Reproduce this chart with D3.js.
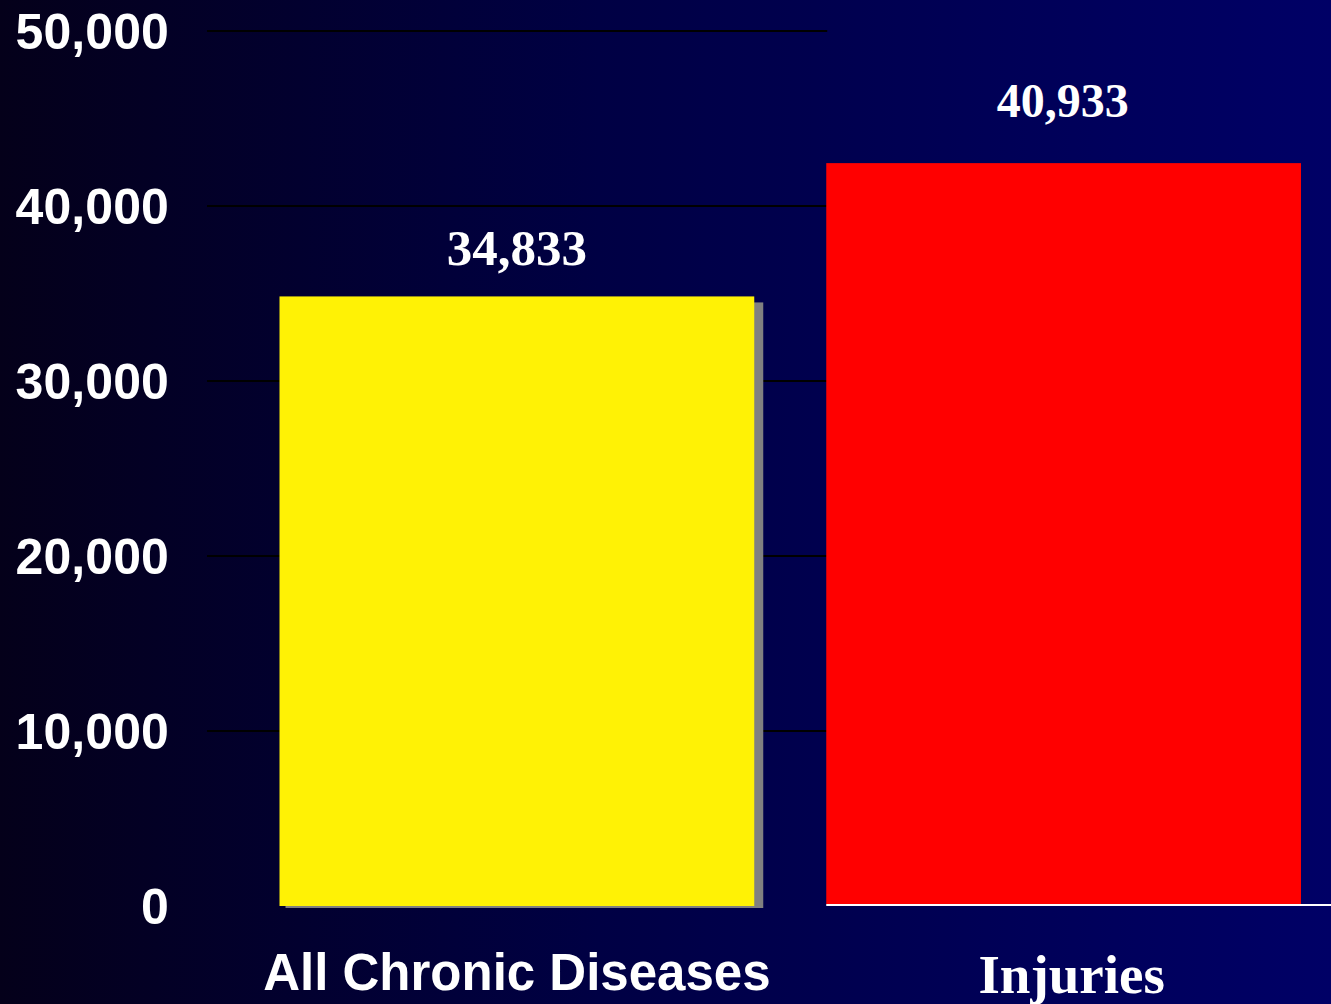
<!DOCTYPE html>
<html>
<head>
<meta charset="utf-8">
<script src="https://cdn.jsdelivr.net/npm/d3@7"></script>
<style>
  html, body { margin: 0; padding: 0; background: #000030; overflow: hidden; }
  svg { display: block; }
</style>
</head>
<body>
<svg id="chart" width="1331" height="1004"></svg>
<script>
// ---- data ----
const categories = ["All Chronic Diseases", "Injuries"];
const barValues = [34833, 42450];          // bar heights as drawn
const valueLabels = ["34,833", "40,933"];  // printed labels
const yTicks = [0, 10000, 20000, 30000, 40000, 50000];
const yTickLabels = ["0", "10,000", "20,000", "30,000", "40,000", "50,000"];

const W = 1331, H = 1004;
const svg = d3.select("#chart");

// background gradient
const defs = svg.append("defs");
const grad = defs.append("linearGradient").attr("id", "bg")
  .attr("x1", "0%").attr("y1", "0%").attr("x2", "100%").attr("y2", "0%");
grad.append("stop").attr("offset", "0%").attr("stop-color", "#04001a");
grad.append("stop").attr("offset", "45%").attr("stop-color", "#000044");
grad.append("stop").attr("offset", "100%").attr("stop-color", "#000066");
svg.append("rect").attr("width", W).attr("height", H).attr("fill", "url(#bg)");

// scales
const y = d3.scaleLinear().domain([0, 50000]).range([906, 31]);
const x = d3.scaleBand().domain(categories).range([279.5, 1301])
  .paddingInner(0.1317).paddingOuter(0);

// gridlines (left part only, up to second bar)
svg.append("g").selectAll("line")
  .data(yTicks.filter(d => d > 0))
  .join("line")
  .attr("x1", 207)
  .attr("x2", x(categories[1]) + 1)
  .attr("y1", d => y(d))
  .attr("y2", d => y(d))
  .attr("stroke", "#000000")
  .attr("stroke-width", 2.2);

// y axis labels
const yAxis = d3.axisLeft(y).tickValues(yTicks)
  .tickFormat((d, i) => yTickLabels[i]).tickSize(0).tickPadding(0);
const gy = svg.append("g").attr("transform", "translate(169,0)").call(yAxis);
gy.select(".domain").remove();
gy.selectAll("text")
  .attr("fill", "#ffffff")
  .attr("dy", "0.35em")
  .style("font-family", "'Liberation Sans', Arial, sans-serif")
  .style("font-weight", "bold")
  .style("font-size", "50px")
  .style("letter-spacing", "0.1px");

const barColors = ["#fff205", "#ff0000"];

// shadow for first bar
svg.append("rect")
  .attr("x", x(categories[0]) + 6)
  .attr("y", y(barValues[0]) + 6)
  .attr("width", x.bandwidth() + 3)
  .attr("height", y(0) - y(barValues[0]) - 4)
  .attr("fill", "#808080");

// bars
svg.append("g").selectAll("rect")
  .data(categories)
  .join("rect")
  .attr("x", d => x(d))
  .attr("y", (d, i) => y(barValues[i]))
  .attr("width", x.bandwidth())
  .attr("height", (d, i) => y(0) - y(barValues[i]) - (i === 1 ? 2 : 0))
  .attr("fill", (d, i) => barColors[i]);

// white baseline under second bar
svg.append("line")
  .attr("x1", x(categories[1]))
  .attr("x2", W)
  .attr("y1", y(0) - 1)
  .attr("y2", y(0) - 1)
  .attr("stroke", "#ffffff")
  .attr("stroke-width", 2);

// value labels
const labelOffsets = [31, 46];
const labelDx = [0, -1];
const labelSizes = ["51px", "48px"];
svg.append("g").selectAll("text")
  .data(categories)
  .join("text")
  .attr("x", (d, i) => x(d) + x.bandwidth() / 2 + labelDx[i])
  .attr("y", (d, i) => y(barValues[i]) - labelOffsets[i])
  .attr("text-anchor", "middle")
  .attr("fill", "#ffffff")
  .style("font-family", "'Liberation Serif', 'Times New Roman', serif")
  .style("font-weight", "bold")
  .style("font-size", (d, i) => labelSizes[i])
  .text((d, i) => valueLabels[i]);

// category labels
const catFonts = ["'Liberation Sans', Arial, sans-serif", "'Liberation Serif', 'Times New Roman', serif"];
const catSizes = ["51px", "55px"];
const catDx = [0, 8];
const catY = [990, 993];
svg.append("g").selectAll("text")
  .data(categories)
  .join("text")
  .attr("x", (d, i) => x(d) + x.bandwidth() / 2 + catDx[i])
  .attr("y", (d, i) => catY[i])
  .attr("text-anchor", "middle")
  .attr("fill", "#ffffff")
  .style("font-family", (d, i) => catFonts[i])
  .style("font-weight", "bold")
  .style("font-size", (d, i) => catSizes[i])
  .text(d => d);
</script>
</body>
</html>
